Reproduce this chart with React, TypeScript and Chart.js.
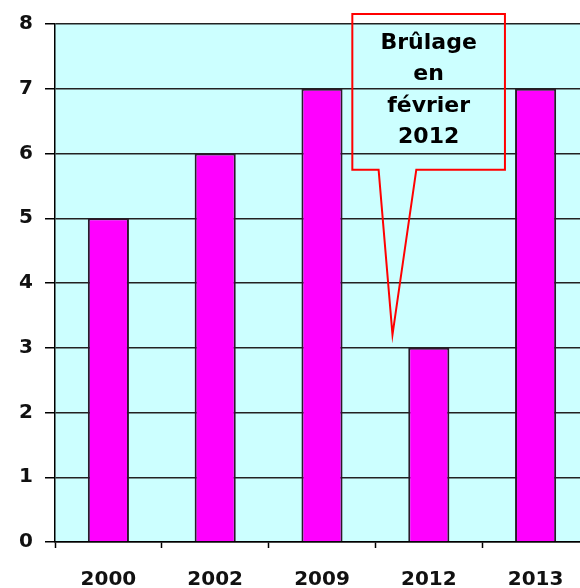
import React, { useEffect, useRef } from "react";
import { Chart, registerables } from "chart.js";

Chart.register(...registerables);

const categories = ["2000", "2002", "2009", "2012", "2013"];
const values = [5, 6, 7, 3, 7];
const yTicks = [0, 1, 2, 3, 4, 5, 6, 7, 8];
const calloutLines = ["Brûlage", "en", "février", "2012"];
const calloutTargetValue = 3.2;

const W = 589;
const H = 588;

export default function App() {
  const ref = useRef<HTMLCanvasElement | null>(null);
  useEffect(() => {
    const canvas = ref.current!;
    const bgPlugin = {
      id: "bg",
      beforeDraw(chart: any) {
        const { ctx, chartArea: a } = chart;
        ctx.save();
        ctx.fillStyle = "#CCFFFF";
        ctx.fillRect(a.left, a.top, a.right - a.left, a.bottom - a.top);
        ctx.restore();
      },
    };
    const calloutPlugin = {
      id: "callout",
      afterDraw(chart: any) {
        const { ctx } = chart;
        const xs = chart.scales.x;
        const ys = chart.scales.y;
        const cw = xs.getPixelForValue(1) - xs.getPixelForValue(0);
        const c2012 = xs.getPixelForValue(3);
        const tipX = c2012 - 0.34 * cw;
        const tipY = ys.getPixelForValue(calloutTargetValue);
        const L = c2012 - 0.716 * cw;
        const R = c2012 + 0.713 * cw;
        const T = ys.getPixelForValue(8) - 10;
        const B = ys.getPixelForValue(5.75);
        const p1 = c2012 - 0.47 * cw;
        const p2 = c2012 - 0.117 * cw;
        ctx.save();
        ctx.beginPath();
        ctx.moveTo(L, T);
        ctx.lineTo(R, T);
        ctx.lineTo(R, B);
        ctx.lineTo(p2, B);
        ctx.lineTo(tipX, tipY);
        ctx.lineTo(p1, B);
        ctx.lineTo(L, B);
        ctx.closePath();
        ctx.strokeStyle = "#FF0000";
        ctx.lineWidth = 2;
        ctx.lineJoin = "miter";
        ctx.stroke();
        ctx.fillStyle = "#000000";
        ctx.font = "bold 22px 'DejaVu Sans'";
        ctx.textAlign = "center";
        ctx.textBaseline = "alphabetic";
        const cx = (L + R) / 2;
        calloutLines.forEach((t, i) => {
          ctx.fillText(t, cx, T + 35 + i * 31.3);
        });
        ctx.restore();
      },
    };
    const chart = new Chart(canvas, {
      type: "bar",
      data: {
        labels: categories,
        datasets: [
          {
            data: values,
            backgroundColor: "#FF00FF",
            borderColor: "#2a1a2a",
            borderWidth: 2,
            barPercentage: 0.385,
            categoryPercentage: 1,
          },
        ],
      },
      options: {
        responsive: false,
        animation: false,
        layout: { padding: { top: 23, left: 0, right: 0, bottom: 0 } },
        plugins: {
          legend: { display: false },
          tooltip: { enabled: false },
        },
        scales: {
          x: {
            grid: {
              display: true,
              drawOnChartArea: false,
              drawTicks: true,
              tickLength: 6,
              tickColor: "#000",
              tickWidth: 1.5,
              offset: true,
            },
            border: { display: true, color: "#000", width: 1.5 },
            ticks: {
              color: "#111",
              font: { family: "'DejaVu Sans'", size: 20, weight: "bold" },
              padding: 20,
              maxRotation: 0,
            },
            afterFit(scale: any) {
              scale.height = 46;
            },
          },
          y: {
            min: 0,
            max: 8,
            grid: {
              color: "#222",
              lineWidth: 1.5,
              tickLength: 10,
              tickColor: "#000",
            },
            border: { display: true, color: "#000", width: 1.5 },
            afterBuildTicks(scale: any) {
              scale.ticks = yTicks.map((v) => ({ value: v }));
            },
            ticks: {
              color: "#111",
              font: { family: "'DejaVu Sans'", size: 20, weight: "bold" },
              padding: 12,
            },
            afterFit(scale: any) {
              scale.width = 55;
            },
          },
        },
      },
      plugins: [bgPlugin, calloutPlugin],
    });
    return () => chart.destroy();
  }, []);
  return (
    <div
      style={{
        position: "fixed",
        left: 0,
        top: 0,
        width: 580,
        height: 588,
        overflow: "hidden",
        background: "#fff",
      }}
    >
      <canvas ref={ref} width={W} height={H} style={{ display: "block" }} />
    </div>
  );
}
